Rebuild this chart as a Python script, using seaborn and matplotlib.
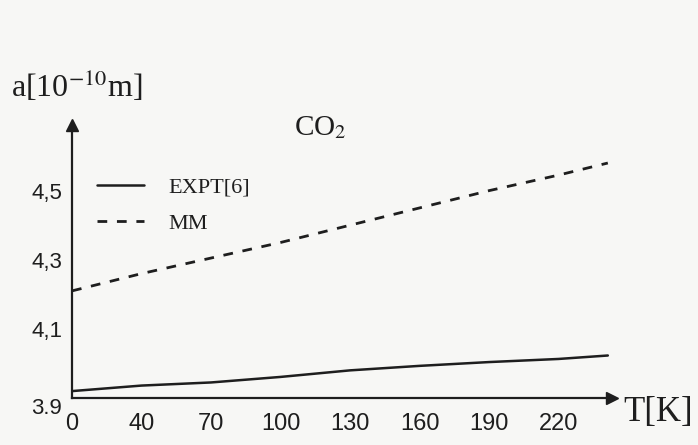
import matplotlib
matplotlib.use("Agg")
import matplotlib.pyplot as plt
import matplotlib.transforms as mtransforms
import seaborn as sns
import pandas as pd

# Temperature tick labels (evenly spaced along the axis)
t_labels = ["0", "40", "70", "100", "130", "160", "190", "220"]
t_pos = [0, 1, 2, 3, 4, 5, 6, 7]

# Lattice constant a [1e-10 m] sampled along the temperature axis
x_pos = [0, 1, 2, 3, 4, 5, 6, 7, 7.71]
a_expt = [3.920, 3.936, 3.945, 3.961, 3.980, 3.993, 4.004, 4.013, 4.023]
a_mm = [4.210, 4.260, 4.305, 4.350, 4.400, 4.450, 4.500, 4.545, 4.580]

y_ticks = [3.9, 4.1, 4.3, 4.5]
y_labels = ["3.9", "4,1", "4,3", "4,5"]

sns.set_style("white")
plt.rcParams["font.family"] = ["Liberation Serif", "DejaVu Serif"]
plt.rcParams["mathtext.fontset"] = "stix"

ink = "#1e1e1e"
paper = "#f7f7f5"

fig = plt.figure(figsize=(6.98, 4.45), dpi=100, facecolor=paper)
ax = fig.add_axes([0.1032, 0.1056, 0.7736, 0.6135], facecolor=paper)

df_expt = pd.DataFrame({"T": x_pos, "a": a_expt})
df_mm = pd.DataFrame({"T": x_pos, "a": a_mm})

sns.lineplot(data=df_expt, x="T", y="a", ax=ax, color=ink, lw=1.8,
             label="EXPT[6]")
sns.lineplot(data=df_mm, x="T", y="a", ax=ax, color=ink, lw=2.0,
             linestyle=(0, (3.5, 3.5)), label="MM")

ax.set_xlim(0, 7.77)
ax.set_ylim(3.9, 4.69)

for side in ("top", "right"):
    ax.spines[side].set_visible(False)
for side in ("left", "bottom"):
    ax.spines[side].set_color(ink)
    ax.spines[side].set_linewidth(1.6)

# Arrow heads on both axes
ax.plot(1, 0, ">", color=ink, ms=9, transform=ax.transAxes, clip_on=False)
ax.plot(0, 1, "^", color=ink, ms=9, transform=ax.transAxes, clip_on=False)

ax.set_xticks(t_pos)
ax.set_xticklabels(t_labels, fontsize=17, family=["Liberation Sans"], color=ink)
ax.set_yticks(y_ticks)
ax.set_yticklabels(y_labels, fontsize=16, family=["Liberation Sans"], color=ink)
ax.set_yticks([4.21], minor=True)
ax.tick_params(axis="both", which="both", direction="in", length=5,
               width=1.2, color=ink)
ax.tick_params(axis="x", pad=11)
ax.tick_params(axis="y", pad=7)
ax.set_xlabel("")
ax.set_ylabel("")

# the lowest y label sits a little below the axis line
lbl0 = ax.get_yticklabels()[0]
lbl0.set_transform(lbl0.get_transform() +
                   mtransforms.ScaledTranslation(0, -6 / 72, fig.dpi_scale_trans))

leg = ax.legend(loc="upper left", bbox_to_anchor=(97 / 698, 1 - 177 / 445),
                bbox_transform=fig.transFigure, frameon=False, fontsize=16,
                handlelength=2.1, handletextpad=1.1, labelspacing=0.7,
                borderpad=0, borderaxespad=0)
for txt in leg.get_texts():
    txt.set_color(ink)

fig.text(11 / 698, 1 - 86 / 445, "a[10$^{-10}$m]", fontsize=23, color=ink,
         ha="left", va="center")
fig.text(320 / 698, 1 - 128 / 445, "CO$_2$", fontsize=21, color=ink,
         ha="center", va="center")
fig.text(623 / 698, 1 - 412 / 445, "T[K]", fontsize=25, color=ink,
         ha="left", va="center")

fig.savefig("out.png", dpi=100, facecolor=paper)
